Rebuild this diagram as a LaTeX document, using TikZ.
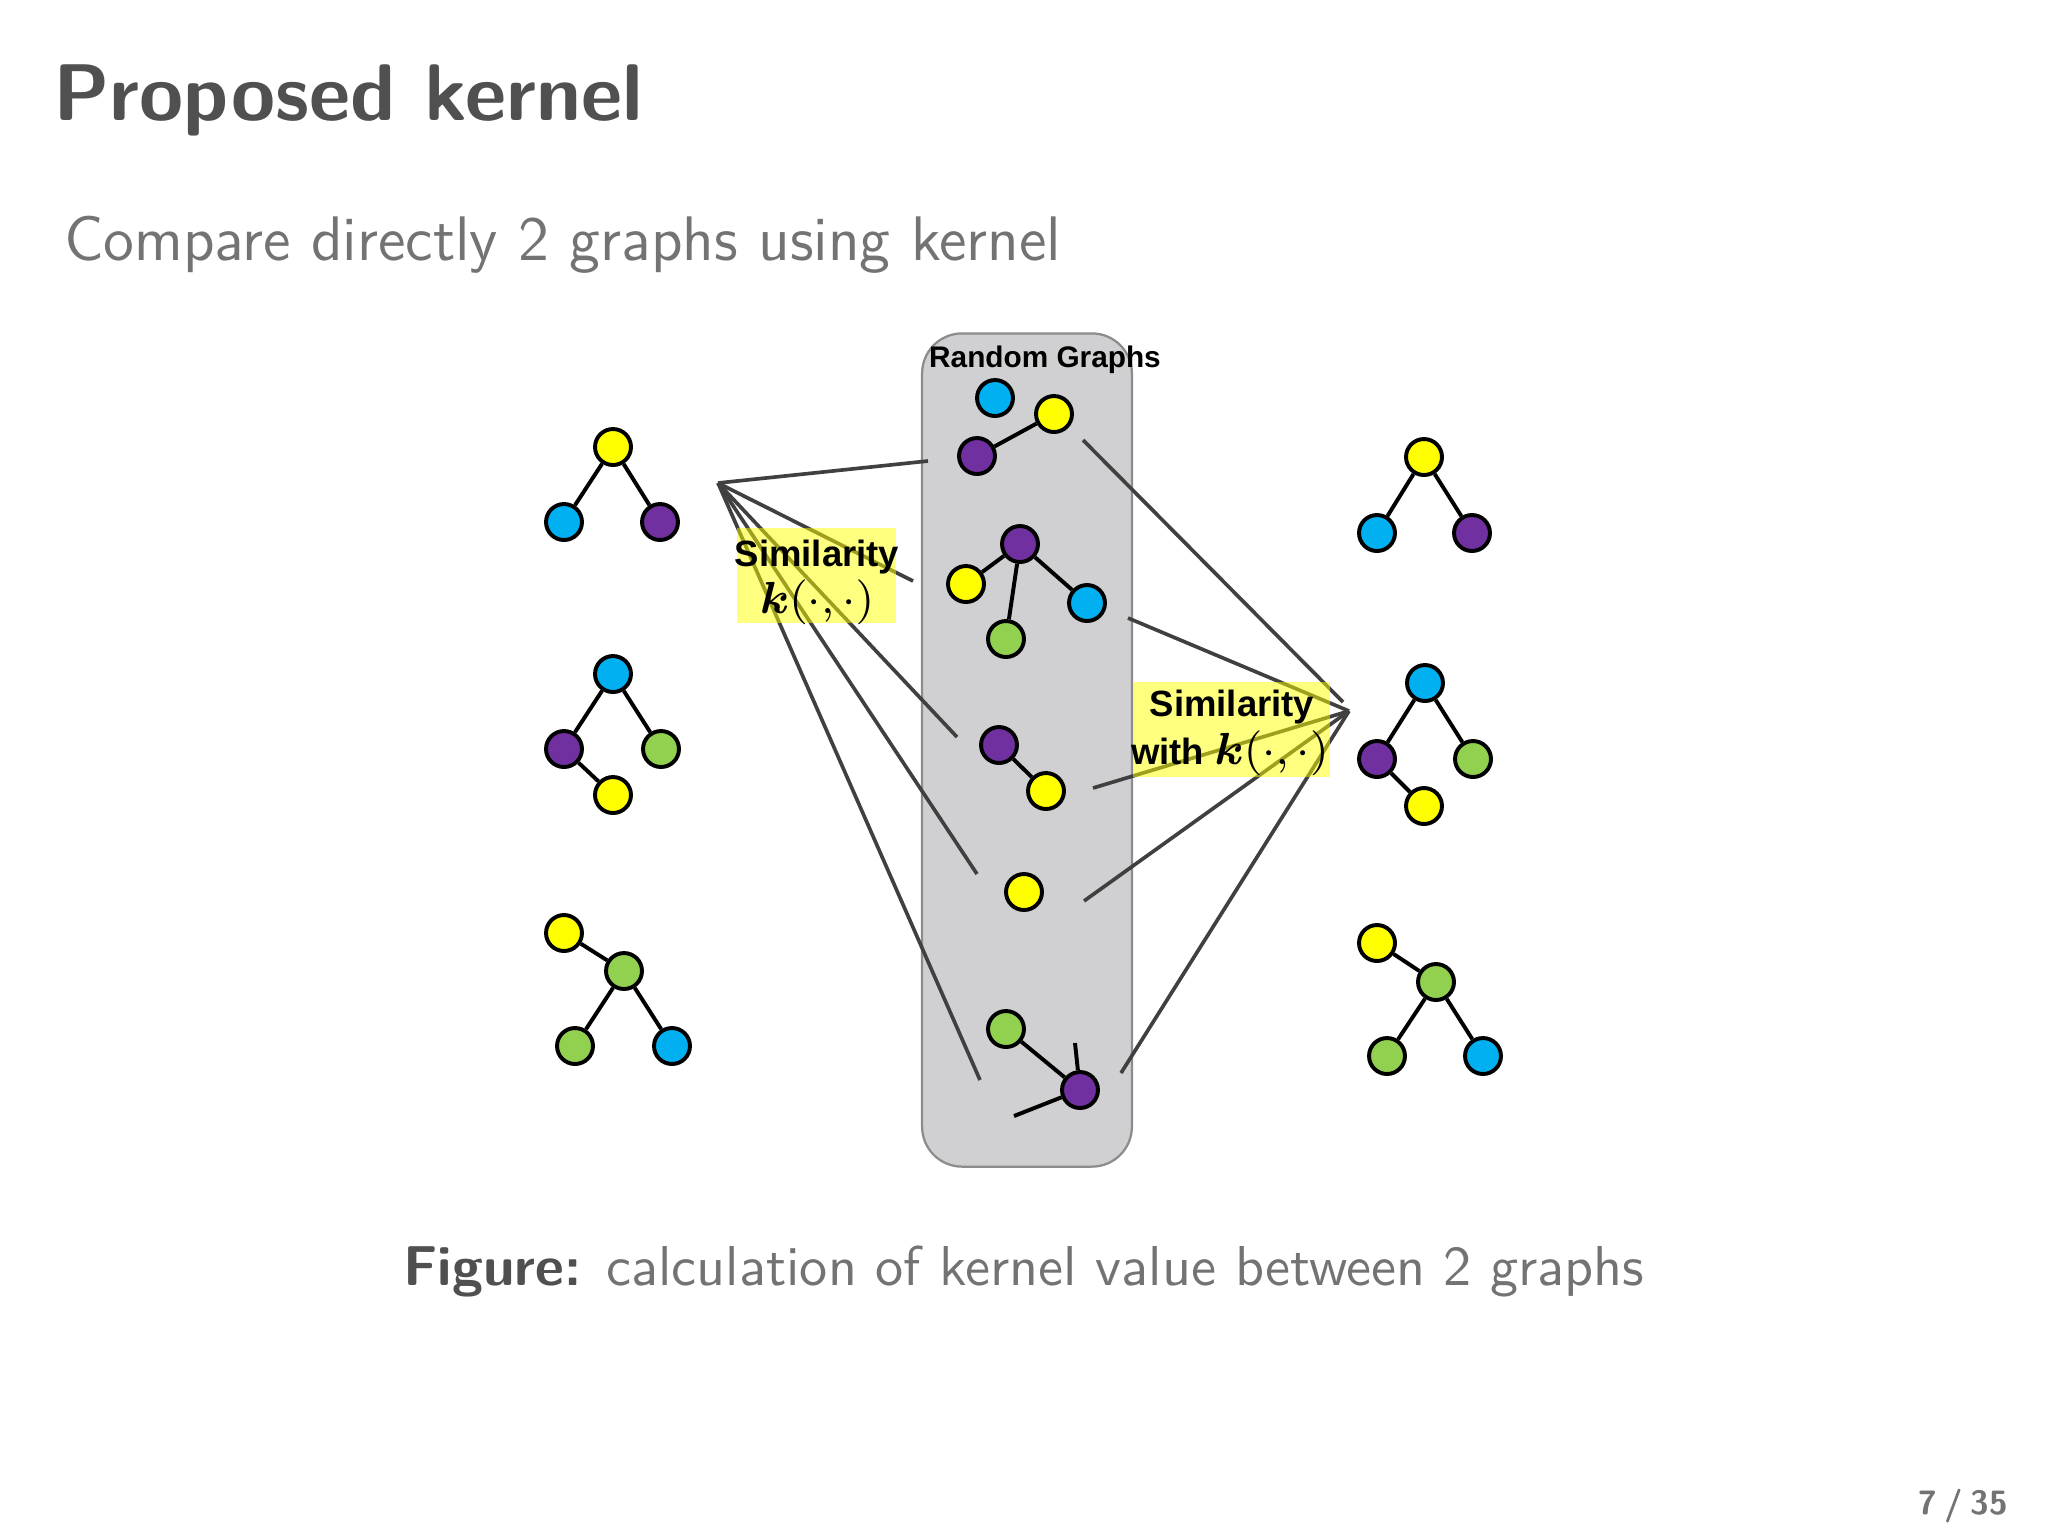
\documentclass[tikz,border=0pt]{standalone}
\usepackage{amsmath}
\usepackage{fontspec}
\newfontfamily\arialf{Liberation Sans}
\definecolor{gy}{HTML}{FFFF00}
\definecolor{gb}{HTML}{00B0F0}
\definecolor{gp}{HTML}{7030A0}
\definecolor{gg}{HTML}{92D050}
\definecolor{fanc}{HTML}{404040}
\definecolor{boxgray}{HTML}{D0CFD1}
\definecolor{boxedge}{HTML}{8C8C8C}
\definecolor{titlegray}{HTML}{505050}
\definecolor{textgray}{HTML}{737373}
\tikzset{
  vtx/.style={circle, draw=black, line width=0.7pt, minimum size=2.25mm, inner sep=0pt},
  yv/.style={vtx, fill=gy},
  bv/.style={vtx, fill=gb},
  pv/.style={vtx, fill=gp},
  gv/.style={vtx, fill=gg},
  edge/.style={line width=0.7pt, draw=black},
  fanline/.style={line width=0.65pt, draw=fanc},
  hilite/.style={fill=gy, fill opacity=0.5, inner sep=0pt, minimum height=5.94mm},
  labtext/.style={anchor=base, inner sep=0pt, font=\arialf\bfseries\fontsize{6.5}{7.8}\selectfont},
}
\newcommand{\kdot}{$\boldsymbol{k}(\cdot,\cdot)$}
\begin{document}
\begin{tikzpicture}[x=0.00625cm, y=-0.00625cm]
\useasboundingbox (0,0) rectangle (2048,1536);
\fill[white] (0,0) rectangle (2048,1536);

% headings
\node[anchor=base west, inner sep=0, text=titlegray] (title) at (52,120)
  {\sffamily\bfseries\fontsize{14.3}{17}\selectfont Proposed kernel};
\node[anchor=base west, inner sep=0, text=textgray] (subtitle) at (63,260)
  {\sffamily\fontsize{11.2}{13}\selectfont Compare directly 2 graphs using kernel};
\node[anchor=base, inner sep=0, text=textgray] (caption) at (1024,1285)
  {\sffamily\fontsize{10}{12}\selectfont{\bfseries\color{titlegray}Figure:} calculation of kernel value between 2 graphs};
\node[anchor=base east, inner sep=0, text=textgray] (pagenum) at (2009,1514)
  {\sffamily\bfseries\fontsize{6}{7}\selectfont 7\hspace{0.22em}/\hspace{0.22em}35};

% random graphs box
\node[draw=boxedge, line width=0.4pt, fill=boxgray, rounded corners=2.5mm,
  minimum width=13.125mm, minimum height=52.125mm, inner sep=0] (rgbox) at (1027,750) {};
\node[anchor=base, inner sep=0] (rgtitle) at (1045,367)
  {\arialf\bfseries\fontsize{5.3}{6}\selectfont Random Graphs};

% random graph 1
\node[bv] (r1b) at (995,398) {};
\node[yv] (r1y) at (1054,414) {};
\node[pv] (r1p) at (977,456) {};
\draw[edge] (r1p) -- (r1y);
% random graph 2
\node[pv] (r2p) at (1020,544) {};
\node[yv] (r2y) at (966,584) {};
\node[bv] (r2b) at (1087,603) {};
\node[gv] (r2g) at (1006,639) {};
\draw[edge] (r2p) -- (r2y);
\draw[edge] (r2p) -- (r2g);
\draw[edge] (r2p) -- (r2b);
% random graph 3
\node[pv] (r3p) at (999,745) {};
\node[yv] (r3y) at (1046,791) {};
\draw[edge] (r3p) -- (r3y);
% random graph 4
\node[yv] (r4y) at (1024,892) {};
% random graph 5
\node[gv] (r5g) at (1006,1029) {};
\node[pv] (r5p) at (1080,1090) {};
\coordinate (s1) at (1075,1043);
\coordinate (s2) at (1014,1116);
\draw[edge] (r5g) -- (r5p);
\draw[edge] (r5p) -- (s1);
\draw[edge] (r5p) -- (s2);

% left graphs
\node[yv] (L1y) at (613,447) {};
\node[bv] (L1b) at (564,522) {};
\node[pv] (L1p) at (660,522) {};
\draw[edge] (L1y) -- (L1b);
\draw[edge] (L1y) -- (L1p);

\node[bv] (L2b) at (613,674) {};
\node[pv] (L2p) at (564,749) {};
\node[gv] (L2g) at (661,749) {};
\node[yv] (L2y) at (613,795) {};
\draw[edge] (L2b) -- (L2p);
\draw[edge] (L2b) -- (L2g);
\draw[edge] (L2p) -- (L2y);

\node[yv] (L3y) at (564,933) {};
\node[gv] (L3g) at (624,971) {};
\node[gv] (L3gl) at (575,1046) {};
\node[bv] (L3b) at (672,1046) {};
\draw[edge] (L3y) -- (L3g);
\draw[edge] (L3g) -- (L3gl);
\draw[edge] (L3g) -- (L3b);

% right graphs
\node[yv] (R1y) at (1424,457) {};
\node[bv] (R1b) at (1377,533) {};
\node[pv] (R1p) at (1472,533) {};
\draw[edge] (R1y) -- (R1b);
\draw[edge] (R1y) -- (R1p);

\node[bv] (R2b) at (1425,683) {};
\node[pv] (R2p) at (1377,759) {};
\node[gv] (R2g) at (1473,759) {};
\node[yv] (R2y) at (1424,806) {};
\draw[edge] (R2b) -- (R2p);
\draw[edge] (R2b) -- (R2g);
\draw[edge] (R2p) -- (R2y);

\node[yv] (R3y) at (1377,943) {};
\node[gv] (R3g) at (1436,982) {};
\node[gv] (R3gl) at (1387,1056) {};
\node[bv] (R3b) at (1483,1056) {};
\draw[edge] (R3y) -- (R3g);
\draw[edge] (R3g) -- (R3gl);
\draw[edge] (R3g) -- (R3b);

% fan lines, left
\coordinate (lf) at (718,483);
\coordinate (la1) at (928,461);
\coordinate (la2) at (913,581);
\coordinate (la3) at (957,737);
\coordinate (la4) at (977,874);
\coordinate (la5) at (980,1080);
\foreach \e in {la1,la2,la3,la4,la5} \draw[fanline] (lf) -- (\e);

% fan lines, right
\coordinate (rf) at (1349,711);
\coordinate (rf1) at (1343,702);
\coordinate (rb1) at (1083,440);
\coordinate (rb2) at (1128,618);
\coordinate (rb3) at (1093,788);
\coordinate (rb4) at (1084,901);
\coordinate (rb5) at (1121,1073);
\draw[fanline] (rb1) -- (rf1);
\foreach \e in {rb2,rb3,rb4,rb5} \draw[fanline] (\e) -- (rf);

% highlighted labels
\node[hilite, minimum width=9.94mm] (simL) at (816.5,575.5) {};
\node[labtext] (simL1) at (817,566) {Similarity};
\node[labtext] (simL2) at (817,613) {\fontsize{7.6}{9}\selectfont\kdot};
\node[hilite, minimum width=12.31mm] (simR) at (1231.5,729.5) {};
\node[labtext] (simR1) at (1232,716) {Similarity};
\node[labtext] (simR2) at (1230,764) {with \fontsize{7.6}{9}\selectfont\kdot};
\end{tikzpicture}
\end{document}
